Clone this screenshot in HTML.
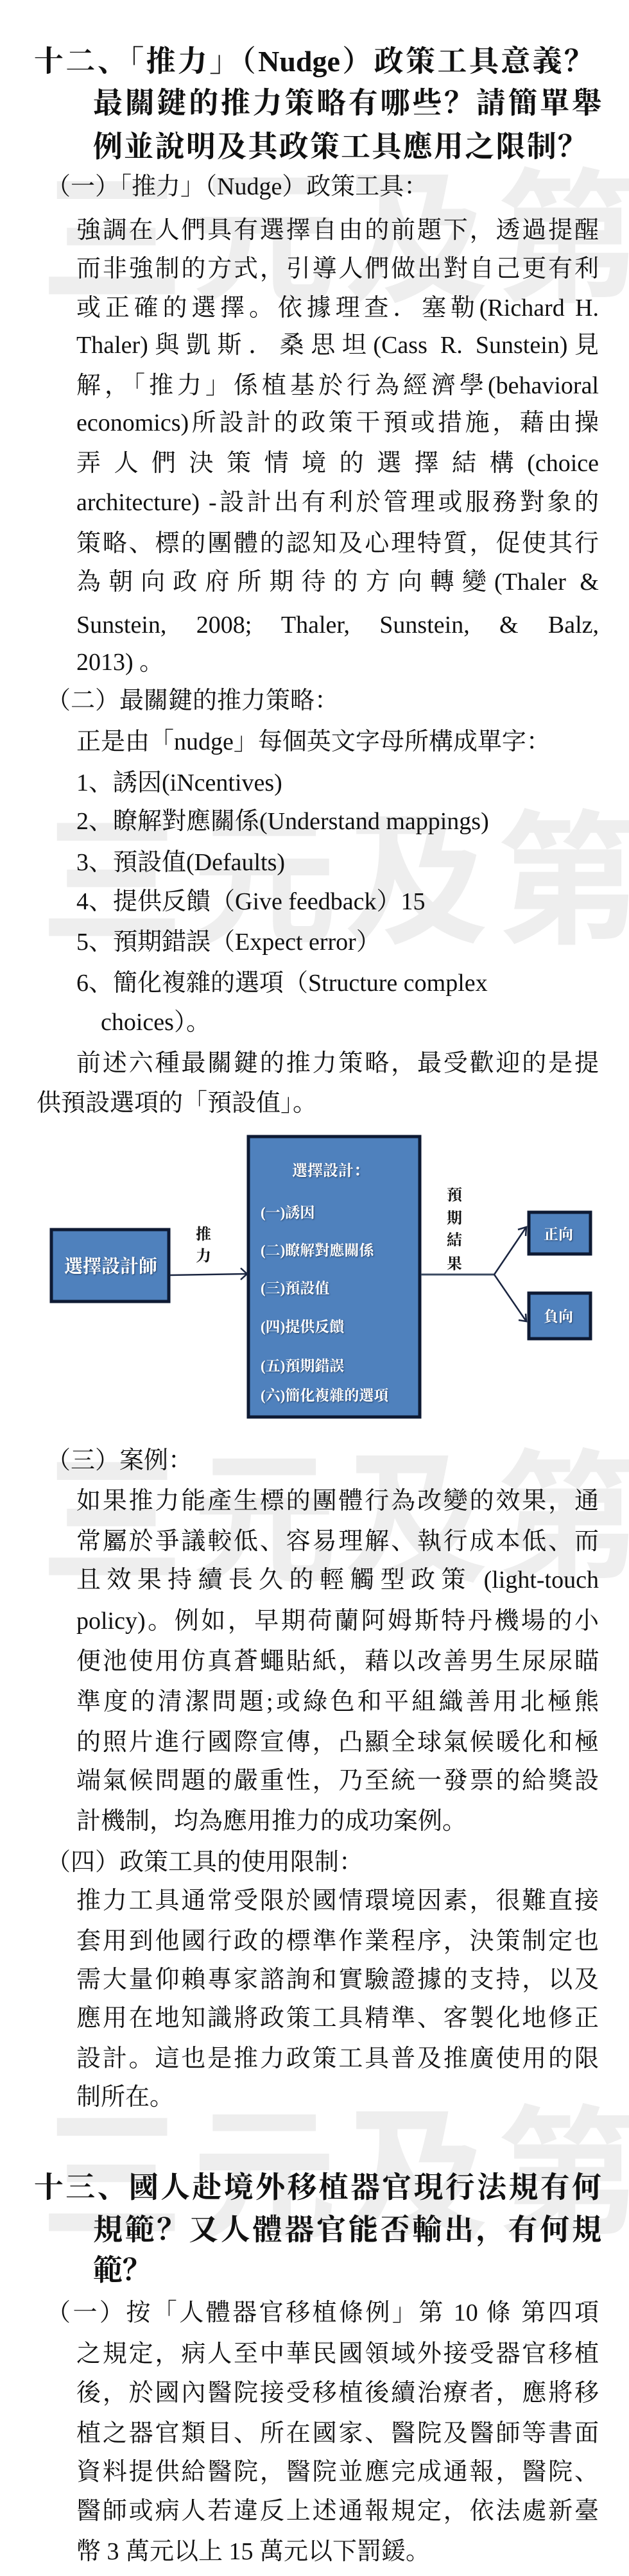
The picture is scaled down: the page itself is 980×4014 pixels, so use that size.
<!DOCTYPE html>
<html><head><meta charset="utf-8">
<style>
html,body{margin:0;padding:0;background:#fff;}
body{width:980px;height:4014px;position:relative;overflow:hidden;font-family:"Liberation Serif","Noto Serif CJK SC",serif;color:#111;}
.wm{position:absolute;font-family:"Liberation Sans","Noto Sans CJK SC",sans-serif;font-weight:bold;font-size:225px;line-height:225px;color:#eeeeee;z-index:0;white-space:nowrap;}
.l{position:absolute;z-index:1;font-size:38px;line-height:62px;height:62px;white-space:nowrap;overflow:visible;}
.j{left:119px;width:814px;text-align:justify;text-align-last:justify;text-justify:inter-character;white-space:normal;}
.b{left:119px;}
.h{left:72px;}
.t{position:absolute;z-index:1;font-size:46px;line-height:66px;height:66px;font-weight:bold;white-space:nowrap;}
.tj{text-align:justify;text-align-last:justify;text-justify:inter-character;white-space:normal;}
svg{position:absolute;left:0;top:0;z-index:1;}
</style></head><body>

<div class="wm" style="left:62px;top:262px;letter-spacing:12px">三元及第</div>
<div class="wm" style="left:62px;top:1262px;letter-spacing:12px">三元及第</div>
<div class="wm" style="left:62px;top:2258px;letter-spacing:12px">三元及第</div>
<div class="wm" style="left:62px;top:3280px;letter-spacing:12px">三元及第</div>

<div class="t tj" style="left:53px;width:872px;top:63px">十二、「推力」（Nudge）政策工具意義？</div>
<div class="t tj" style="left:145px;width:792px;top:128px">最關鍵的推力策略有哪些？請簡單舉</div>
<div class="t tj" style="left:145px;width:770px;top:196px">例並說明及其政策工具應用之限制？</div>

<div class="l h" style="top:260px">（一）「推力」（Nudge）政策工具：</div>
<div class="l j" style="top:328px">強調在人們具有選擇自由的前題下，透過提醒</div>
<div class="l j" style="top:388px">而非強制的方式，引導人們做出對自己更有利</div>
<div class="l j" style="top:449px">或正確的選擇。依據理查．塞勒(Richard H.</div>
<div class="l j" style="top:507px">Thaler)與凱斯．桑思坦(Cass R. Sunstein)見</div>
<div class="l j" style="top:570px">解，「推力」係植基於行為經濟學(behavioral</div>
<div class="l j" style="top:628px">economics)所設計的政策干預或措施，藉由操</div>
<div class="l j" style="top:691px">弄人們決策情境的選擇結構(choice</div>
<div class="l j" style="top:752px">architecture) -設計出有利於管理或服務對象的</div>
<div class="l j" style="top:816px">策略、標的團體的認知及心理特質，促使其行</div>
<div class="l j" style="top:876px">為朝向政府所期待的方向轉變(Thaler &amp;</div>
<div class="l j" style="top:943px">Sunstein, 2008; Thaler, Sunstein, &amp; Balz,</div>
<div class="l b" style="top:1001px">2013) 。</div>

<div class="l h" style="top:1061px">（二）最關鍵的推力策略：</div>
<div class="l b" style="top:1125px">正是由「nudge」每個英文字母所構成單字：</div>
<div class="l b" style="top:1189px">1、誘因(iNcentives)</div>
<div class="l b" style="top:1249px">2、瞭解對應關係(Understand mappings)</div>
<div class="l b" style="top:1313px">3、預設值(Defaults)</div>
<div class="l b" style="top:1374px">4、提供反饋（Give feedback）15</div>
<div class="l b" style="top:1437px">5、預期錯誤（Expect error）</div>
<div class="l b" style="top:1501px">6、簡化複雜的選項（Structure complex</div>
<div class="l" style="left:157px;top:1562px">choices）。</div>
<div class="l j" style="top:1626px">前述六種最關鍵的推力策略，最受歡迎的是提</div>
<div class="l" style="left:57px;top:1688px">供預設選項的「預設值」。</div>

<svg width="980" height="4014" viewBox="0 0 980 4014">
<defs>
<filter id="sh"><feDropShadow dx="1" dy="1" stdDeviation="1" flood-color="#1a2a4a" flood-opacity="0.8"/></filter>
</defs>
<g stroke="#0e1a33" stroke-width="5" fill="#4f81bd">
<rect x="80" y="1916" width="183" height="112"/>
<rect x="387" y="1771" width="267" height="437"/>
<rect x="824" y="1889" width="96" height="65"/>
<rect x="824" y="2015" width="96" height="71"/>
</g>
<g stroke="#1a2540" stroke-width="2.5" fill="none">
<line x1="265" y1="1987" x2="385" y2="1985"/>
<polyline points="375,1976 385,1985 375,1994"/>
<line x1="656" y1="1986" x2="770" y2="1986" stroke="#3a4a60" stroke-width="3"/>
<line x1="770" y1="1986" x2="820" y2="1912"/>
<line x1="770" y1="1986" x2="820" y2="2059"/>
<polyline points="807,1916 820,1912 819,1926"/>
<polyline points="808,2057 820,2059 819,2047"/>
</g>
<g font-family="Liberation Serif, Noto Serif CJK SC, serif" fill="#fff" filter="url(#sh)" font-weight="bold">
<text x="100" y="1983" font-size="29">選擇設計師</text>
<text x="455" y="1832" font-size="24">選擇設計：</text>
<text x="406" y="1897" font-size="23">(一)誘因</text>
<text x="406" y="1956" font-size="23">(二)瞭解對應關係</text>
<text x="406" y="2015" font-size="23">(三)預設值</text>
<text x="406" y="2075" font-size="23">(四)提供反饋</text>
<text x="406" y="2136" font-size="23">(五)預期錯誤</text>
<text x="406" y="2182" font-size="23">(六)簡化複雜的選項</text>
<text x="847" y="1931" font-size="23">正向</text>
<text x="847" y="2059" font-size="23">負向</text>
</g>
<g font-family="Liberation Serif, Noto Serif CJK SC, serif" fill="#111" font-size="24" font-weight="bold">
<text x="305" y="1931">推</text>
<text x="305" y="1965">力</text>
<text x="696" y="1870">預</text>
<text x="696" y="1906">期</text>
<text x="696" y="1940">結</text>
<text x="696" y="1977">果</text>
</g>
</svg>

<div class="l h" style="top:2245px">（三）案例：</div>
<div class="l j" style="top:2308px">如果推力能產生標的團體行為改變的效果，通</div>
<div class="l j" style="top:2371px">常屬於爭議較低、容易理解、執行成本低、而</div>
<div class="l j" style="top:2431px">且效果持續長久的輕觸型政策 (light-touch</div>
<div class="l j" style="top:2495px">policy)。例如，早期荷蘭阿姆斯特丹機場的小</div>
<div class="l j" style="top:2558px">便池使用仿真蒼蠅貼紙，藉以改善男生尿尿瞄</div>
<div class="l j" style="top:2621px">準度的清潔問題;或綠色和平組織善用北極熊</div>
<div class="l j" style="top:2684px">的照片進行國際宣傳，凸顯全球氣候暖化和極</div>
<div class="l j" style="top:2744px">端氣候問題的嚴重性，乃至統一發票的給獎設</div>
<div class="l b" style="top:2807px">計機制，均為應用推力的成功案例。</div>
<div class="l h" style="top:2871px">（四）政策工具的使用限制：</div>
<div class="l j" style="top:2931px">推力工具通常受限於國情環境因素，很難直接</div>
<div class="l j" style="top:2994px">套用到他國行政的標準作業程序，決策制定也</div>
<div class="l j" style="top:3054px">需大量仰賴專家諮詢和實驗證據的支持，以及</div>
<div class="l j" style="top:3114px">應用在地知識將政策工具精準、客製化地修正</div>
<div class="l j" style="top:3177px">設計。這也是推力政策工具普及推廣使用的限</div>
<div class="l b" style="top:3237px">制所在。</div>

<div class="t tj" style="left:53px;width:884px;top:3376px">十三、國人赴境外移植器官現行法規有何</div>
<div class="t tj" style="left:145px;width:792px;top:3442px">規範？又人體器官能否輸出，有何規</div>
<div class="t" style="left:145px;top:3505px">範？</div>

<div class="l" style="left:72px;width:861px;top:3573px;text-align:justify;text-align-last:justify;white-space:normal">（一）按「人體器官移植條例」第 10 條 第四項</div>
<div class="l j" style="top:3637px">之規定，病人至中華民國領域外接受器官移植</div>
<div class="l j" style="top:3698px">後，於國內醫院接受移植後續治療者，應將移</div>
<div class="l j" style="top:3761px">植之器官類目、所在國家、醫院及醫師等書面</div>
<div class="l j" style="top:3821px">資料提供給醫院，醫院並應完成通報，醫院、</div>
<div class="l j" style="top:3882px">醫師或病人若違反上述通報規定，依法處新臺</div>
<div class="l b" style="top:3945px">幣 3 萬元以上 15 萬元以下罰鍰。</div>
</body></html>
